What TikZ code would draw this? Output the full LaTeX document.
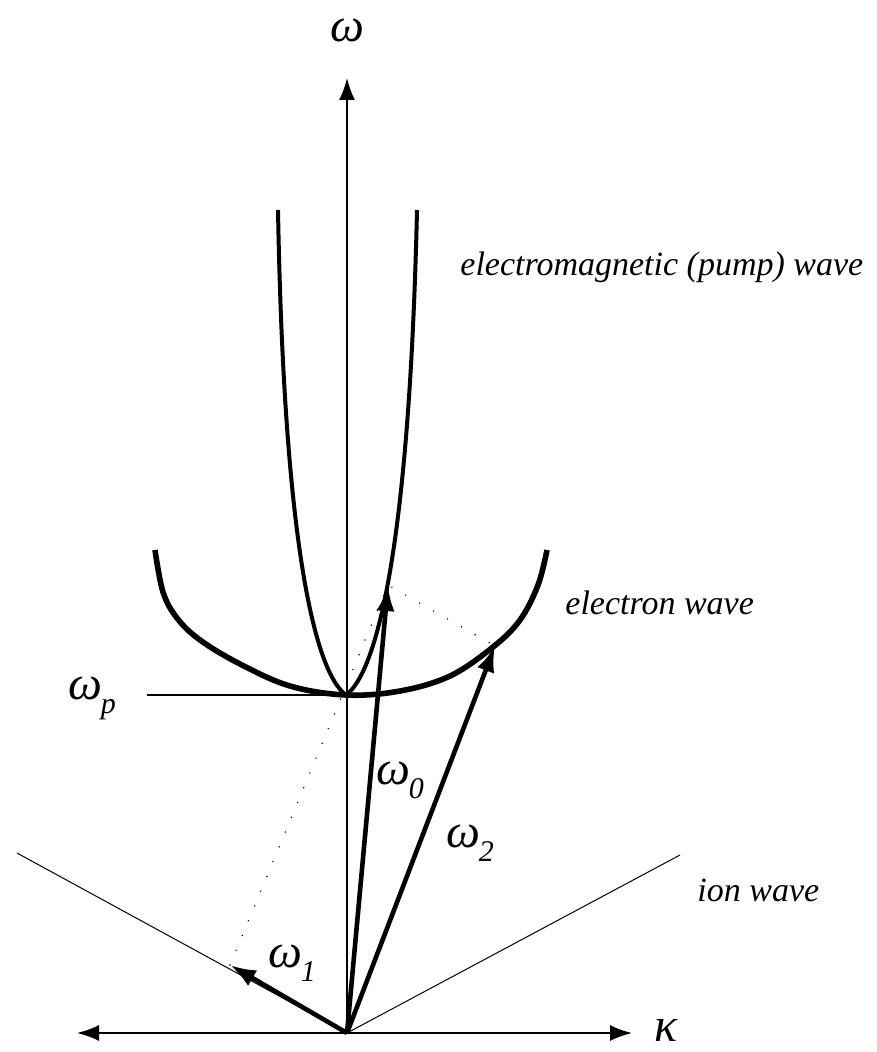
\documentclass[tikz,border=0pt]{standalone}
\usepackage{fontspec}
\setmainfont{Liberation Serif}
\newfontfamily\labelfont{Liberation Serif Italic}
\usetikzlibrary{positioning,arrows.meta}

\newcommand{\wsub}[1]{ω\kern-0.5pt\raisebox{-7pt}{\fontsize{15}{15}\selectfont #1}}

\begin{document}
\begin{tikzpicture}[x=0.5pt, y=-0.5pt,
  axis/.style={line width=0.9pt},
  wave/.style={line width=2pt},
  vec/.style={line width=2.3pt, -{Latex[length=13pt,width=9pt]}},
  ionline/.style={line width=0.5pt},
  aux/.style={line width=0.8pt, line cap=round, dash pattern=on 0pt off 8pt},
  curvelabel/.style={font=\labelfont\fontsize{17}{20}\selectfont, anchor=west, inner sep=0pt},
  wlabel/.style={font=\labelfont\fontsize{24}{26}\selectfont, inner sep=0pt},
]
\useasboundingbox (0,0) rectangle (876,1052);

\coordinate (O) at (347,1033);
\coordinate (wtop) at (347,78);
\coordinate (kleft) at (77,1033);
\coordinate (kright) at (632,1033);
\coordinate (vertex) at (346,695);
\coordinate (pstart) at (147,695);
\coordinate (ionleft) at (17,853);
\coordinate (ionright) at (680,855);
\coordinate (w0tip) at (388,585);
\coordinate (w1tip) at (230,965);
\coordinate (w2tip) at (495,646);

% axes
\draw[axis, -{Latex[length=11pt,width=8pt]}] (O) -- (wtop);
\draw[axis, {Latex[length=11pt,width=8pt]}-{Latex[length=11pt,width=8pt]}] (kleft) -- (kright);
\node[wlabel] (wlab) at (347,30) {ω};
\node[wlabel] (klab) at (666,1030) {κ};

% plasma frequency
\draw[axis, line width=0.7pt] (pstart) -- (vertex);
\node[wlabel] (wp) at (92,698) {\wsub{p}};

% dispersion curves
\draw[wave] (278,210) .. controls (285,600) and (325,680) .. (vertex)
  .. controls (367,680) and (408,600) .. (417,210);
\draw[wave, line width=2.8pt] plot[smooth, tension=0.6] coordinates {
  (155,550) (163,592) (177,618) (200,640) (240,664) (290,686) (346,695)
  (400,691) (450,676) (493,647) (520,620) (538,585) (547,550)};
\draw[ionline] (ionleft) -- (O) -- (ionright);

\node[curvelabel] (emlab) at (460,267) {electromagnetic (pump) wave};
\node[curvelabel] (elab) at (565,603) {electron wave};
\node[curvelabel] (ionlab) at (697,890) {ion wave};

% parallelogram
\draw[aux] (w1tip) -- (w0tip) -- (w2tip);
\draw[vec] (O) -- (w0tip);
\draw[vec] (O) -- (w1tip);
\draw[vec] (O) -- (w2tip);
\node[wlabel] (w0lab) at (400,780) {\wsub{0}};
\node[wlabel] (w1lab) at (292,963) {\wsub{1}};
\node[wlabel] (w2lab) at (470,843) {\wsub{2}};
\end{tikzpicture}
\end{document}
